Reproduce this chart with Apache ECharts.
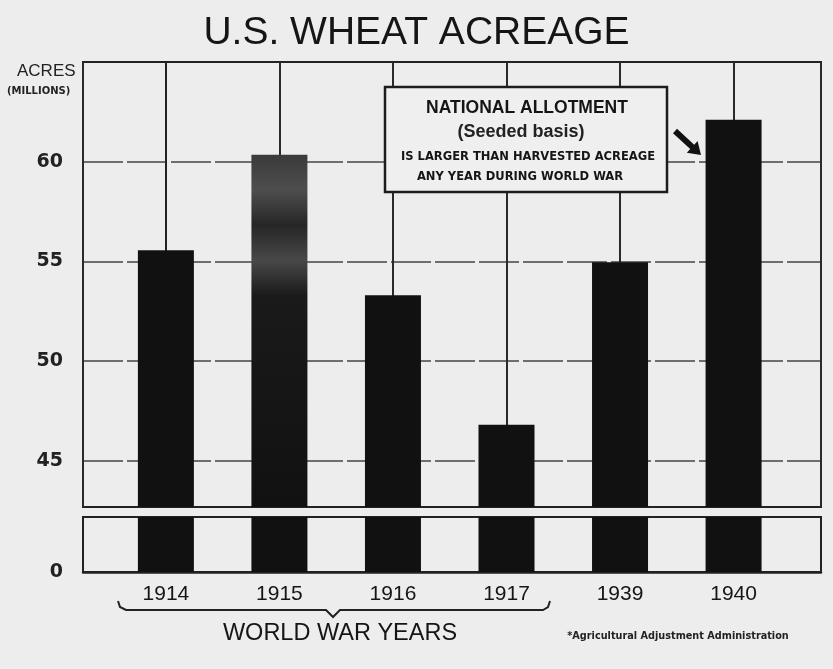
<!DOCTYPE html>
<html>
<head>
<meta charset="utf-8">
<script src="https://cdn.jsdelivr.net/npm/echarts@6/dist/echarts.min.js"></script>
<style>
html,body{margin:0;padding:0;background:#ededed;}
#chart{width:833px;height:669px;}
</style>
</head>
<body>
<div id="chart"></div>
<script>
// ---- data ----
const years = ['1914', '1915', '1916', '1917', '1939', '1940'];
const acres = [55.55, 60.35, 53.3, 46.8, 54.95, 62.1]; // millions of acres
const yTicksUpper = [45, 50, 55, 60];
const titleText = 'U.S. WHEAT ACREAGE';
const yAxisTitle = ['ACRES', '(MILLIONS)'];
const noteLines = ['NATIONAL ALLOTMENT', '(Seeded basis)', 'IS LARGER THAN HARVESTED ACREAGE', 'ANY YEAR DURING WORLD WAR'];
const groupLabel = 'WORLD WAR YEARS';
const sourceText = '*Agricultural Adjustment Administration';

const FONT = 'Liberation Sans';
const INK = '#151515';

const chart = echarts.init(document.getElementById('chart'));

const barData = years.map((y, i) => {
  const d = { value: [i, acres[i]] };
  if (y === '1915') {
    d.itemStyle = {
      color: new echarts.graphic.LinearGradient(0, 0, 0, 1, [
        { offset: 0, color: '#3a3a3a' },
        { offset: 0.1, color: '#4e4e4e' },
        { offset: 0.2, color: '#262626' },
        { offset: 0.3, color: '#484848' },
        { offset: 0.4, color: '#1a1a1a' },
        { offset: 1, color: '#111' }
      ])
    };
  }
  return d;
});

const isInt = v => Math.abs(v - Math.round(v)) < 1e-6;

const xCommon = {
  type: 'value',
  min: -0.73,
  max: 5.77,
  minInterval: 1,
  maxInterval: 1,
  axisTick: { show: false }
};

const option = {
  backgroundColor: '#ededed',
  animation: false,
  title: {
    text: titleText,
    left: 'center',
    top: 9,
    textStyle: { fontFamily: FONT, fontSize: 39, fontWeight: 'normal', color: INK }
  },
  grid: [
    { left: 83, right: 12, top: 62, height: 445, show: true, borderColor: '#222', borderWidth: 2, backgroundColor: 'transparent' },
    { left: 83, right: 12, top: 517, height: 55, show: true, borderColor: '#222', borderWidth: 2, backgroundColor: 'transparent' }
  ],
  xAxis: [
    Object.assign({}, xCommon, {
      gridIndex: 0,
      axisLine: { show: false },
      axisLabel: { show: false },
      splitLine: { show: true, lineStyle: { color: '#2a2a2a', width: 2 } }
    }),
    Object.assign({}, xCommon, {
      gridIndex: 1,
      axisLine: { show: true, onZero: false, lineStyle: { color: '#222', width: 2.5 } },
      splitLine: { show: false },
      axisLabel: {
        margin: 12,
        fontFamily: FONT,
        fontSize: 21,
        color: INK,
        formatter: v => (isInt(v) && years[Math.round(v)] !== undefined) ? years[Math.round(v)] : ''
      }
    })
  ],
  yAxis: [
    {
      type: 'value',
      gridIndex: 0,
      min: 42.67,
      max: 65,
      minInterval: 5,
      maxInterval: 5,
      axisLine: { show: true, lineStyle: { color: '#222', width: 2 } },
      axisTick: { show: false },
      splitLine: { show: true, showMinLine: false, showMaxLine: false, lineStyle: { color: '#444', width: 1.6, type: [40, 4] } },
      axisLabel: {
        margin: 20,
        fontFamily: 'DejaVu Sans',
        fontWeight: 'bold',
        fontSize: 19,
        color: '#222',
        formatter: v => yTicksUpper.indexOf(Math.round(v * 100) / 100) >= 0 ? String(v) : ''
      }
    },
    {
      type: 'value',
      gridIndex: 1,
      min: 0,
      max: 2.76,
      minInterval: 5,
      maxInterval: 5,
      axisLine: { show: true, lineStyle: { color: '#222', width: 2 } },
      axisTick: { show: false },
      splitLine: { show: false },
      axisLabel: {
        margin: 20,
        fontFamily: 'DejaVu Sans',
        fontWeight: 'bold',
        fontSize: 19,
        color: '#222',
        formatter: v => (v === 0 ? '0' : '')
      }
    }
  ],
  series: [
    {
      type: 'bar',
      xAxisIndex: 0,
      yAxisIndex: 0,
      barWidth: 56,
      clip: true,
      z: 3,
      itemStyle: { color: '#111' },
      data: barData
    },
    {
      type: 'bar',
      xAxisIndex: 1,
      yAxisIndex: 1,
      barWidth: 56,
      clip: true,
      z: 3,
      itemStyle: { color: '#111' },
      data: years.map((y, i) => [i, acres[i]])
    }
  ],
  graphic: [
    // y-axis unit label
    { type: 'text', left: 17, top: 63, style: { text: yAxisTitle[0], font: 'normal 17px "Liberation Sans"', fill: '#222' } },
    { type: 'text', left: 7, top: 86, style: { text: yAxisTitle[1], font: 'bold 10px "DejaVu Sans"', fill: '#222' } },
    // annotation box
    { type: 'rect', z: 20, shape: { x: 385, y: 87, width: 282, height: 105 }, style: { fill: '#efefef', stroke: '#1c1c1c', lineWidth: 2.5 } },
    { type: 'text', z: 21, x: 527, y: 108, style: { text: noteLines[0], font: 'bold 17.5px "Liberation Sans"', fill: INK, align: 'center', verticalAlign: 'middle' } },
    { type: 'text', z: 21, x: 521, y: 132, style: { text: noteLines[1], font: 'bold 18px "Liberation Sans"', fill: '#222', align: 'center', verticalAlign: 'middle' } },
    { type: 'text', z: 21, x: 528, y: 157, style: { text: noteLines[2], font: 'bold 12.8px "DejaVu Sans Condensed"', fill: INK, align: 'center', verticalAlign: 'middle' } },
    { type: 'text', z: 21, x: 520, y: 177, style: { text: noteLines[3], font: 'bold 12.8px "DejaVu Sans Condensed"', fill: INK, align: 'center', verticalAlign: 'middle' } },
    // arrow
    {
      type: 'polygon', z: 20,
      shape: { points: [[677, 128.8], [694.2, 144.7], [697.6, 141.0], [701, 155], [686.8, 152.8], [690.2, 149.1], [673, 133.2]] },
      style: { fill: '#111' }
    },
    // brace under war years
    {
      type: 'polyline', z: 20,
      shape: { points: [[118, 601], [120, 607], [126, 610], [326, 610], [333, 617], [340, 610], [543, 610], [548, 607], [550, 601]] },
      style: { stroke: '#222', lineWidth: 2, fill: null }
    },
    { type: 'text', z: 20, x: 340, y: 634, style: { text: groupLabel, font: 'normal 23.5px "Liberation Sans"', fill: INK, align: 'center', verticalAlign: 'middle' } },
    { type: 'text', z: 20, x: 678, y: 636, style: { text: sourceText, font: 'bold 10.8px "DejaVu Sans Condensed"', fill: '#222', align: 'center', verticalAlign: 'middle' } }
  ]
};

chart.setOption(option);
</script>
</body>
</html>
